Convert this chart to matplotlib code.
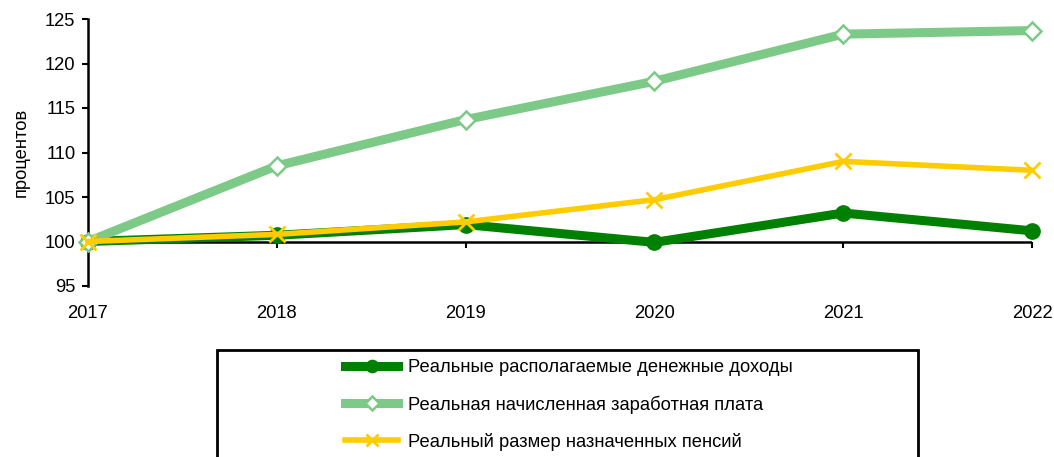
import matplotlib
matplotlib.use("Agg")
from matplotlib import pyplot as plt
from matplotlib.patches import Rectangle

plt.rcParams['font.family'] = ['Liberation Sans', 'DejaVu Sans']

years = [2017, 2018, 2019, 2020, 2021, 2022]
incomes = [100.0, 100.7, 101.9, 99.9, 103.2, 101.2]
wages = [100.0, 108.5, 113.7, 118.0, 123.3, 123.7]
pensions = [100.0, 100.8, 102.2, 104.7, 109.0, 108.0]

labels = ["Реальные располагаемые денежные доходы",
          "Реальная начисленная заработная плата",
          "Реальный размер назначенных пенсий"]

W, H = 1054, 457
fs = 13.2
fig = plt.figure(figsize=(W / 100, H / 100), dpi=100)
ax = fig.add_axes([88 / W, 1 - 286 / H, (1032 - 88) / W, (286 - 19) / H])

l1, = ax.plot(years, incomes, color="#008000", lw=6.5, marker="o", ms=11,
              mfc="#008000", mec="#008000", zorder=3, clip_on=False)
l2, = ax.plot(years, wages, color="#7DC987", lw=6.5, marker="D", ms=9,
              mfc="white", mec="#7DC987", mew=1.8, zorder=3, clip_on=False)
l3, = ax.plot(years, pensions, color="#FFCC00", lw=4, marker="x", ms=11,
              mec="#FFCC00", mew=2, zorder=4, clip_on=False)

ax.set_xlim(2017, 2022)
ax.set_ylim(95, 125)
ax.set_yticks([95, 100, 105, 110, 115, 120, 125])
ax.set_xticks(years)
ax.tick_params(axis="y", length=4, width=1.5, labelsize=fs, pad=5)
ax.tick_params(axis="x", length=0, labelsize=fs, pad=14)
ax.set_ylabel("процентов", fontsize=fs, labelpad=11)

for s in ["top", "right", "bottom"]:
    ax.spines[s].set_visible(False)
ax.spines["left"].set_linewidth(1.8)

# horizontal axis crosses at 100
ax.axhline(100, color="black", lw=1.8, zorder=1)
sec = ax.secondary_xaxis((100 - 95) / 30)
sec.set_xticks(years)
sec.tick_params(axis="x", length=4, width=1.5, labelbottom=False, direction="out")
sec.spines["bottom"].set_visible(False)

fig.patches.append(Rectangle((217 / W, 1 - 470 / H), (918 - 217) / W, (470 - 350) / H,
                             transform=fig.transFigure, fill=False, ec="black", lw=2))
fig.legend([l1, l2, l3], labels, loc="center left",
           bbox_to_anchor=(345 / W, 1 - 405 / H), frameon=False, fontsize=fs,
           handlelength=2.9, handletextpad=0.55, labelspacing=1.05,
           borderpad=0, borderaxespad=0, markerscale=0.8)

fig.savefig("out.png", dpi=100)
